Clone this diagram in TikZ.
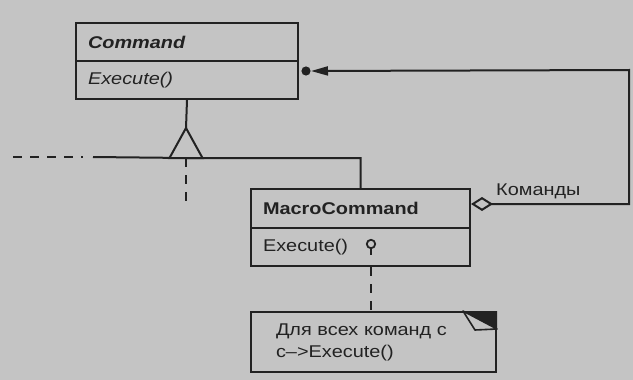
\documentclass[tikz,border=0pt]{standalone}
\usepackage{fontspec}
\newfontfamily\umlfont[FakeStretch=1.17]{Liberation Sans}
\usetikzlibrary{arrows.meta,calc}
\definecolor{bgc}{RGB}{196,196,196}
\definecolor{ink}{RGB}{34,34,34}
\tikzset{
  umlfnt/.style={font=\umlfont\fontsize{17pt}{22pt}\selectfont, text=ink},
  boxrow/.style={draw=ink, line width=2pt, fill=bgc, umlfnt, inner xsep=12pt, inner ysep=0pt, align=left, anchor=center},
  conn/.style={draw=ink, line width=2pt},
  dsh/.style={conn, dash pattern=on 9pt off 8pt},
}
\begin{document}
\begin{tikzpicture}[x=1pt,y=-1pt]
\fill[bgc] (0,0) rectangle (633,380);
\useasboundingbox (0,0) rectangle (633,380);
% Command class
\node[boxrow, text width=198pt, minimum height=38pt] (cmdname) at (187,42) {\bfseries\itshape Command};
\node[boxrow, text width=198pt, minimum height=38pt] (cmdops) at (187,80) {\itshape Execute()};
% MacroCommand class
\node[boxrow, text width=195pt, minimum height=39pt] (macname) at (360.5,208.5) {\bfseries MacroCommand};
\node[boxrow, text width=195pt, minimum height=38pt] (macops) at (360.5,247) {Execute()};
% note
\node[boxrow, inner xsep=25pt, text width=195pt, minimum height=60pt] (note) at (373.5,342) {Для всех команд с\\c–>Execute()};
\fill[ink] ($(note.north east)+(-34,0)$) -- (note.north east) -- ($(note.north east)+(0,18)$) -- cycle;
\filldraw[fill=bgc, draw=ink, line width=1.6pt, line join=round] ($(note.north east)+(-34,0)$) -- ($(note.north east)+(-22,19)$) -- ($(note.north east)+(0,18)$) -- cycle;
% inheritance
\coordinate (apex) at ($(cmdops.south)+(-1,28)$);
\coordinate (base) at ($(apex)+(0,30)$);
\coordinate (hleft) at (93,157);
\coordinate (dleft) at (13,157);
\coordinate (dend) at (83,157);
\coordinate (dlow) at ($(base)+(0,47)$);
\draw[conn] (cmdops.south) -- (apex);
\draw[conn] (hleft) -- (base) -| (macname.north);
\draw[conn, fill=bgc, line join=miter] (apex) -- ($(base)+(-16.5,0)$) -- ($(base)+(16.5,0)$) -- cycle;
\draw[dsh] (dleft) -- (dend);
\draw[dsh] (base) -- (dlow);
% aggregation / reference
\coordinate (aggstart) at ($(macname.east)+(0,-4.5)$);
\coordinate (rc1) at (629,204);
\coordinate (rc2) at (629,70);
\coordinate (dotc) at ($(cmdops.east)+(7,-9)$);
\coordinate (arrend) at ($(dotc)+(5,0)$);
\draw[conn, {Diamond[open,length=22pt,width=14pt,line width=2pt]}-{Triangle[length=17pt,width=9pt]}]
  (aggstart) -- (rc1) -- (rc2) -- (arrend);
\fill[ink] (dotc) circle (4.6pt);
\node[umlfnt, anchor=west, inner sep=0pt] (lbl) at ($(aggstart)+(25,-13)$) {Команды};
% pin and note link
\coordinate (pin) at ($(macops.west)+(121,-3)$);
\draw[conn, line width=1.8pt] (pin) circle (4.2pt);
\draw[conn, line width=1.8pt] ($(pin)+(0,4.2)$) -- ($(pin)+(0,11)$);
\draw[dsh] (pin |- macops.south) -- (pin |- note.north);
\end{tikzpicture}
\end{document}
